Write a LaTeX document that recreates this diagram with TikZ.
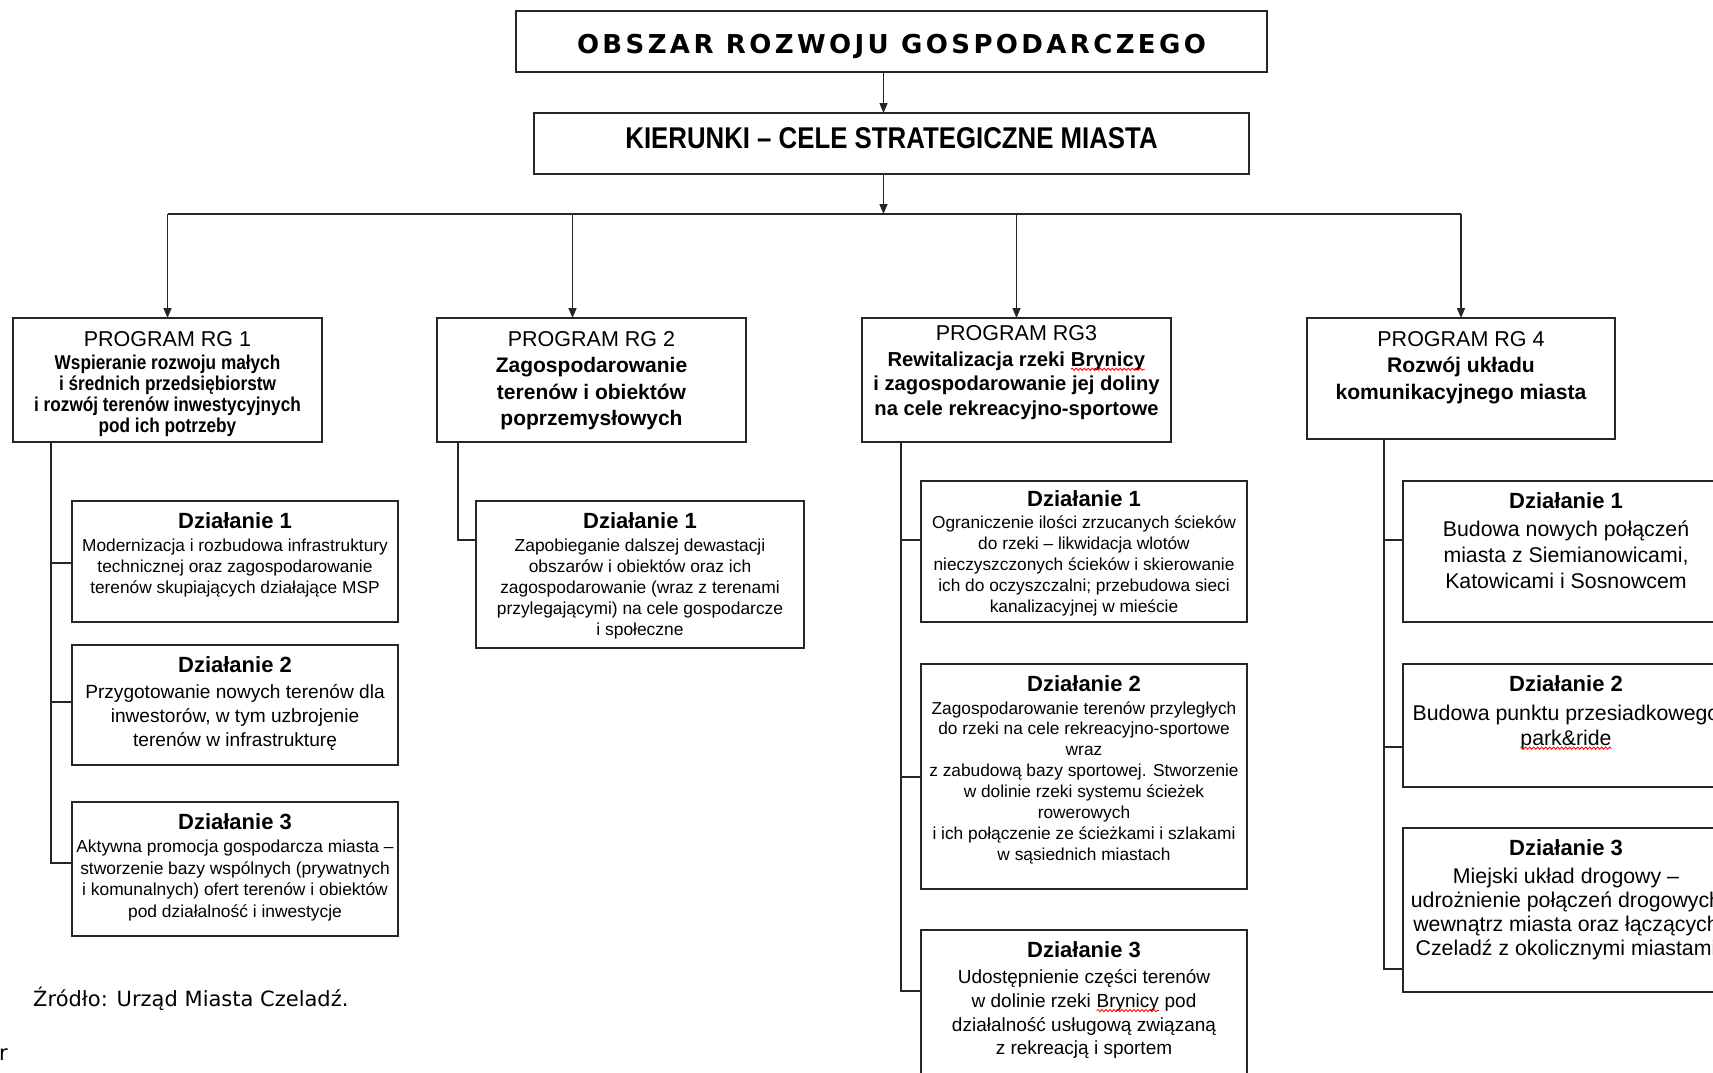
\documentclass[tikz,border=0pt]{standalone}
\usepackage{fontspec}
\setmainfont{Liberation Sans}
\newfontfamily\spacedfont[LetterSpace=13]{DejaVu Sans}
\newfontfamily\narrowfont[FakeStretch=0.86]{Liberation Sans}
\newfontfamily\srcfont{DejaVu Sans}
\usetikzlibrary{arrows.meta}
\usetikzlibrary{decorations.pathmorphing}
\newcommand{\setfs}[2]{\fontsize{#1}{#2}\selectfont}
\newcommand{\dzial}[1]{{\bfseries\setfs{22}{24}Działanie #1}}
\newcommand{\spellwave}[1]{\begin{tikzpicture}[baseline=(wv.base)]
  \node[inner sep=0pt, outer sep=0pt] (wv) {#1};
  \draw[red, line width=0.8pt, decorate, decoration={snake, amplitude=1.1pt, segment length=4pt}] ([yshift=-3pt]wv.base west) -- ([yshift=-3pt]wv.base east);
\end{tikzpicture}}
\tikzset{box/.style={draw=black!85, line width=1.5pt, inner sep=0pt, outer sep=0pt, anchor=north west}}
\tikzset{boxtext/.style={align=center, inner sep=0pt, anchor=north}}
\tikzset{link/.style={draw=black!85, line width=1.5pt}}
\tikzset{arr/.style={-{Triangle[length=10pt,width=8pt]}}}

\begin{document}
\begin{tikzpicture}[x=1pt,y=-1pt]
\useasboundingbox (0,0) rectangle (1713,1072);
\clip (0,0) rectangle (1713,1072);

\node[box, minimum width=751, minimum height=61, font=\spacedfont\bfseries\setfs{26}{30}, text height=24, text depth=0] (obszar) at (516,11) {OBSZAR ROZWOJU GOSPODARCZEGO};
\node[box, minimum width=715, minimum height=61, font=\narrowfont\bfseries\setfs{30}{34}, text height=21, text depth=12] (kierunki) at (534,113) {KIERUNKI – CELE STRATEGICZNE MIASTA};
\coordinate (bus) at (0,214);
\coordinate (odown) at ([xshift=-8]obszar.south);
\coordinate (kdown) at ([xshift=-8]kierunki.south);
\draw[link,arr] (odown) -- (odown |- kierunki.north);
\draw[link,arr] (kdown) -- (kdown |- bus);

% programy
\node[box, minimum width=309, minimum height=124] (rg1) at (13,318) {};
\node[box, minimum width=309, minimum height=124] (rg2) at (437,318) {};
\node[box, minimum width=309, minimum height=124] (rg3) at (862,318) {};
\node[box, minimum width=308, minimum height=121] (rg4) at (1307,318) {};
\node[boxtext, font=\narrowfont\bfseries\setfs{20}{21}] (rg1txt) at ([yshift=-13]rg1.north) {{\normalfont\setfs{21.5}{23}PROGRAM RG 1}\\[2pt] Wspieranie rozwoju małych\\ i średnich przedsiębiorstw\\ i rozwój terenów inwestycyjnych\\ pod ich potrzeby};
\node[boxtext, font=\bfseries\setfs{21}{26.5}] (rg2txt) at ([yshift=-13]rg2.north) {{\mdseries\setfs{21.5}{23}PROGRAM RG 2}\\ Zagospodarowanie\\ terenów i obiektów\\ poprzemysłowych};
\node[boxtext, font=\bfseries\setfs{20.2}{24.5}] (rg3txt) at ([yshift=-7]rg3.north) {{\mdseries\setfs{21.5}{23}PROGRAM RG3}\\[1.5pt] Rewitalizacja rzeki \spellwave{Brynicy}\\ i zagospodarowanie jej doliny\\ na cele rekreacyjno-sportowe};
\node[boxtext, font=\bfseries\setfs{21.1}{26.5}] (rg4txt) at ([yshift=-13]rg4.north) {{\mdseries\setfs{21.5}{23}PROGRAM RG 4}\\ Rozwój układu\\ komunikacyjnego miasta};

\coordinate (rg2in) at ([xshift=-19]rg2.north);
\draw[link] (rg1.north |- bus) -- (rg4.north |- bus);
\draw[link,arr] (rg1.north |- bus) -- (rg1.north);
\draw[link,arr] (rg2in |- bus) -- (rg2in);
\draw[link,arr] (rg3.north |- bus) -- (rg3.north);
\draw[link,arr] (rg4.north |- bus) -- (rg4.north);

% dzialania
\node[box, minimum width=326, minimum height=121] (d11) at (72,501) {};
\node[box, minimum width=326, minimum height=120] (d12) at (72,645) {};
\node[box, minimum width=326, minimum height=134] (d13) at (72,802) {};
\node[box, minimum width=328, minimum height=147] (d21) at (476,501) {};
\node[box, minimum width=326, minimum height=141] (d31) at (921,481) {};
\node[box, minimum width=326, minimum height=225] (d32) at (921,664) {};
\node[box, minimum width=326, minimum height=160] (d33) at (921,930) {};
\node[box, minimum width=326, minimum height=141] (d41) at (1403,481) {};
\node[box, minimum width=326, minimum height=123] (d42) at (1403,664) {};
\node[box, minimum width=326, minimum height=164] (d43) at (1403,828) {};

\node[boxtext, font=\setfs{17.3}{21}] (d11txt) at ([yshift=-11]d11.north) {\dzial{1}\\[2pt] Modernizacja i rozbudowa infrastruktury\\ technicznej oraz zagospodarowanie\\ terenów skupiających działające MSP};
\node[boxtext, font=\setfs{19.1}{24}] (d12txt) at ([yshift=-11]d12.north) {\dzial{2}\\[2pt] Przygotowanie nowych terenów dla\\ inwestorów, w tym uzbrojenie\\ terenów w infrastrukturę};
\node[boxtext, font=\setfs{17.4}{21.5}] (d13txt) at ([yshift=-11]d13.north) {\dzial{3}\\[2pt] Aktywna promocja gospodarcza miasta –\\ stworzenie bazy wspólnych (prywatnych\\ i komunalnych) ofert terenów i obiektów\\ pod działalność i inwestycje};
\node[boxtext, font=\setfs{17.4}{21}] (d21txt) at ([yshift=-11]d21.north) {\dzial{1}\\[2pt] Zapobieganie dalszej dewastacji\\ obszarów i obiektów oraz ich\\ zagospodarowanie (wraz z terenami\\ przylegającymi) na cele gospodarcze\\ i społeczne};
\node[boxtext, font=\setfs{17.3}{20.8}] (d31txt) at ([yshift=-9]d31.north) {\dzial{1}\\[2pt] Ograniczenie ilości zrzucanych ścieków\\ do rzeki – likwidacja wlotów\\ nieczyszczonych ścieków i skierowanie\\ ich do oczyszczalni; przebudowa sieci\\ kanalizacyjnej w mieście};
\node[boxtext, font=\setfs{17.3}{20.9}] (d32txt) at ([yshift=-11]d32.north) {\dzial{2}\\[2pt] Zagospodarowanie terenów przyległych\\ do rzeki na cele rekreacyjno-sportowe\\ wraz\\ z zabudową bazy sportowej. Stworzenie\\ w dolinie rzeki systemu ścieżek\\ rowerowych\\ i ich połączenie ze ścieżkami i szlakami\\ w sąsiednich miastach};
\node[boxtext, font=\setfs{19}{23.7}] (d33txt) at ([yshift=-11]d33.north) {\dzial{3}\\[3pt] Udostępnienie części terenów\\ w dolinie rzeki \spellwave{Brynicy} pod\\ działalność usługową związaną\\ z rekreacją i sportem};
\node[boxtext, font=\setfs{21.3}{26}] (d41txt) at ([yshift=-11]d41.north) {\dzial{1}\\[2pt] Budowa nowych połączeń\\ miasta z Siemianowicami,\\ Katowicami i Sosnowcem};
\node[boxtext, font=\setfs{21.3}{25}] (d42txt) at ([yshift=-11]d42.north) {\dzial{2}\\[4pt] Budowa punktu przesiadkowego\\ \spellwave{park\&ride}};
\node[boxtext, font=\setfs{21.3}{24}] (d43txt) at ([yshift=-11]d43.north) {\dzial{3}\\[4pt] Miejski układ drogowy –\\ udrożnienie połączeń drogowych\\ wewnątrz miasta oraz łączących\\ Czeladź z okolicznymi miastami};

\coordinate (t1) at ([xshift=38]rg1.south west);
\draw[link] (t1) |- ([yshift=-62]d11.north west);
\draw[link] (t1) |- ([yshift=-57]d12.north west);
\draw[link] (t1) |- ([yshift=-61]d13.north west);
\coordinate (t2) at ([xshift=21]rg2.south west);
\draw[link] (t2) |- ([yshift=-39]d21.north west);
\coordinate (t3) at ([xshift=39]rg3.south west);
\draw[link] (t3) |- ([yshift=-59]d31.north west);
\draw[link] (t3) |- ([yshift=-113]d32.north west);
\draw[link] (t3) |- ([yshift=-61]d33.north west);
\coordinate (t4) at ([xshift=77]rg4.south west);
\draw[link] (t4) |- ([yshift=-59]d41.north west);
\draw[link] (t4) |- ([yshift=-83]d42.north west);
\draw[link] (t4) |- ([yshift=-141]d43.north west);

\node[font=\srcfont\setfs{21}{25}, anchor=west, inner sep=0pt] (zrodlo) at (33,999) {Źródło: Urząd Miasta Czeladź.};
\node[font=\srcfont\setfs{21}{25}, anchor=west, inner sep=0pt] (frag) at (-1,1055) {r};

\end{tikzpicture}
\end{document}
